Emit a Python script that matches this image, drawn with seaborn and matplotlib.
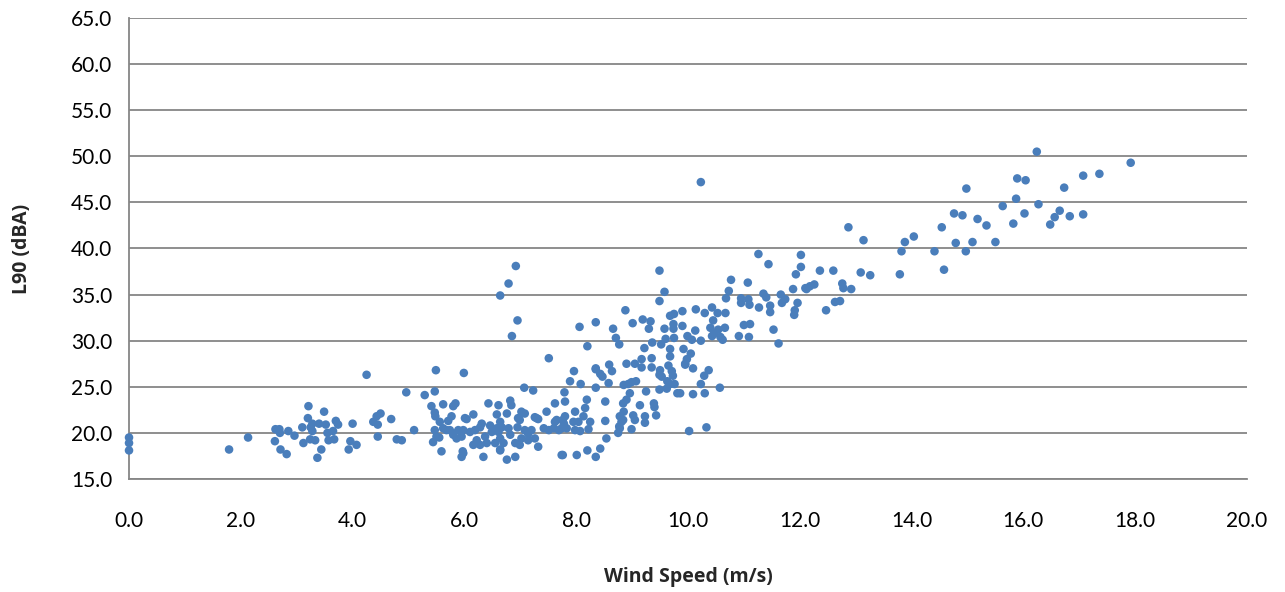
import pandas as pd
import seaborn as sns
import matplotlib.pyplot as plt
from matplotlib.ticker import FormatStrFormatter

# Wind speed (m/s) readings, grouped roughly by region of the chart
wind_low = [0.0, 0.0, 0.0, 1.79, 2.13,
            2.62, 2.69, 2.70, 2.61, 2.71, 2.82, 2.85, 2.96, 3.12, 3.10, 3.21, 3.20, 3.28, 3.25,
            3.28, 3.24, 3.33, 3.37, 3.44, 3.40, 3.49, 3.52, 3.55, 3.57, 3.65, 3.67, 3.70, 3.74,
            4.00, 3.96, 3.93, 4.07, 4.25, 4.37, 4.45, 4.43, 4.50, 4.45, 4.69, 4.79, 4.88,
            4.96, 5.10, 5.29, 5.47, 5.49, 5.99, 7.07, 7.23, 7.51]
l90_low = [19.5, 18.9, 18.1, 18.2, 19.5,
           20.4, 20.4, 20.0, 19.1, 18.2, 17.7, 20.2, 19.7, 18.9, 20.6, 22.9, 21.6, 21.0, 20.6,
           20.2, 19.3, 19.2, 17.3, 18.2, 21.0, 22.3, 20.9, 20.0, 19.2, 20.2, 19.3, 21.3, 20.9,
           21.0, 19.1, 18.2, 18.7, 26.3, 21.2, 20.9, 21.8, 22.1, 19.6, 21.5, 19.3, 19.2,
           24.4, 20.3, 24.1, 24.5, 26.8, 26.5, 24.9, 24.6, 28.1]

wind_mid_a = [5.62, 5.80, 5.41, 5.47, 5.77, 6.01, 6.16, 6.43, 6.61, 5.56, 5.71, 5.47, 5.62,
              5.68, 5.50, 5.44, 5.86, 5.95, 6.10, 6.19, 6.28, 6.31, 6.46, 6.49, 6.58, 6.37,
              6.22, 6.16, 6.28, 6.40, 6.55, 6.34, 5.98, 5.95, 5.59, 5.98, 5.80, 5.84, 5.48,
              5.89, 6.04, 5.55, 5.74, 6.64, 5.97]
l90_mid_a = [23.1, 22.9, 22.9, 22.2, 21.8, 21.6, 22.0, 23.2, 23.0, 21.2, 21.3, 20.3, 20.5,
             20.3, 19.6, 19.0, 19.4, 19.6, 20.1, 20.3, 20.6, 21.0, 20.8, 20.1, 20.5, 19.6,
             19.2, 18.7, 18.7, 18.9, 18.9, 17.4, 17.8, 17.4, 18.0, 20.3, 19.8, 23.2, 21.8,
             20.3, 21.5, 19.5, 20.3, 18.2, 18.0]

wind_mid_b = [6.82, 6.76, 7.02, 6.99, 7.29, 7.47, 7.62, 7.65, 6.64, 6.67, 6.61, 6.79, 6.82,
              6.64, 6.70, 6.95, 7.08, 7.14, 7.20, 7.02, 7.14, 7.26, 6.91, 6.99, 7.32, 7.42,
              7.51, 7.60, 7.69, 7.78, 7.74, 6.91, 6.76, 6.64, 6.58, 6.84, 7.08, 6.96, 7.26,
              7.32, 7.62]
l90_mid_b = [23.5, 22.1, 22.3, 21.4, 21.6, 22.3, 23.2, 21.4, 21.2, 20.6, 20.1, 20.5, 19.8,
             19.4, 18.9, 20.6, 20.3, 19.9, 20.3, 19.4, 19.2, 19.4, 18.9, 18.7, 18.5, 20.5,
             20.3, 20.5, 20.3, 21.0, 17.6, 17.4, 17.1, 18.1, 22.0, 23.0, 22.1, 21.6, 21.7,
             21.5, 21.2]

wind_mid_c = [7.80, 8.19, 8.52, 8.84, 7.98, 8.16, 7.80, 7.76, 7.95, 8.04, 8.13, 8.25, 8.78,
              8.84, 8.52, 7.83, 7.98, 8.07, 8.22, 7.74, 8.78, 8.75, 8.54, 8.43, 8.20, 8.35,
              8.01, 7.76,
              7.96, 7.89, 8.08, 8.35, 8.43, 8.47, 8.59, 8.64, 8.58, 8.35, 7.79, 8.90, 8.85,
              8.81, 8.77, 8.99, 9.05, 9.02, 9.14, 9.23, 9.23, 9.39, 9.43, 8.90, 9.05, 9.17,
              9.35, 9.50, 9.49, 9.53, 9.65, 9.71, 9.73, 9.63, 9.68, 9.76, 9.62, 9.81, 8.85,
              8.93, 8.99, 9.07, 8.96, 9.25, 9.49, 9.95, 10.02, 9.40]
l90_mid_c = [23.4, 23.6, 23.4, 23.2, 22.3, 22.7, 21.8, 21.4, 21.2, 21.2, 21.8, 21.2, 21.8,
             21.4, 21.3, 20.5, 20.3, 20.2, 20.4, 20.5, 20.5, 20.0, 19.4, 18.3, 18.1, 17.4,
             17.6, 17.6,
             26.7, 25.6, 25.3, 26.9, 26.4, 26.1, 27.4, 26.7, 25.4, 24.9, 24.4, 23.6, 22.3,
             21.2, 20.7, 20.4, 21.4, 21.9, 23.0, 21.8, 21.1, 23.2, 21.9, 27.5, 27.5, 27.1,
             27.1, 26.8, 26.3, 26.1, 27.3, 26.7, 26.2, 25.6, 25.3, 25.3, 24.8, 24.3, 25.2,
             25.3, 25.5, 25.6, 24.3, 24.5, 24.7, 27.5, 20.2, 22.8]

wind_rise = [6.92, 6.79, 6.64, 6.95, 6.85, 8.06, 8.35, 8.20, 8.66, 8.71, 8.77, 8.88, 9.01,
             9.19, 9.33, 9.30, 9.49, 9.58, 9.49, 9.68, 9.75, 9.74, 9.74, 9.58, 9.75, 9.60,
             9.52, 9.36, 9.22, 9.68, 9.68, 9.17, 9.35, 8.35,
             11.26, 11.44, 12.02, 12.02, 11.93, 10.77, 11.07, 10.73, 10.68, 10.95, 10.95,
             11.08, 11.10, 11.27, 11.35, 11.40, 11.47, 11.47, 11.53, 11.62, 11.66, 11.74,
             11.68, 11.88, 11.96, 11.91, 11.90, 12.10, 9.90, 10.14, 10.30, 10.43, 10.53,
             10.67, 10.45, 9.90, 10.13, 9.99, 10.07, 10.23, 10.40, 10.43, 10.54, 10.58,
             10.62, 10.66, 10.91, 11.00, 11.11, 11.09, 9.92, 10.05, 9.98, 9.95, 10.09,
             10.37, 10.29, 10.23, 10.30, 10.09, 10.57, 10.33, 9.86, 10.47]
l90_rise = [38.1, 36.2, 34.9, 32.2, 30.5, 31.5, 32.0, 29.4, 31.3, 30.3, 29.6, 33.3, 31.9,
            32.3, 32.1, 31.3, 37.6, 35.3, 34.3, 32.7, 32.9, 31.8, 31.3, 31.3, 30.3, 30.2,
            29.6, 29.8, 29.2, 29.1, 28.3, 28.0, 28.1, 27.0,
            39.4, 38.3, 39.3, 38.0, 37.2, 36.6, 36.3, 35.4, 34.6, 34.6, 34.1,
            34.5, 33.9, 33.6, 35.1, 34.7, 33.8, 33.1, 31.2, 29.7, 35.0, 34.5,
            34.1, 35.6, 34.1, 33.3, 32.8, 35.7, 33.2, 33.4, 33.0, 33.6, 33.0,
            33.0, 32.2, 31.6, 31.1, 30.5, 30.1, 30.0, 31.4, 30.5, 31.2, 30.4,
            30.1, 31.4, 30.5, 31.7, 31.8, 30.4, 29.1, 28.6, 28.0, 27.4, 27.0,
            26.8, 26.2, 25.3, 24.3, 24.2, 24.9, 20.6, 24.3, 30.8]

wind_high = [12.87, 13.14, 12.36, 12.60, 13.09, 13.26, 12.12, 12.18, 12.26, 12.76, 12.78,
             12.92, 12.63, 12.72, 12.47,
             16.24, 14.98, 15.89, 16.04, 17.07, 17.36, 16.73, 15.87, 15.63, 16.27, 14.76,
             14.91, 15.18, 15.34, 15.82, 16.02, 16.65, 16.56, 16.48, 16.83, 17.07, 14.54,
             14.04, 13.88, 13.82, 14.41, 14.79, 15.09, 14.97, 15.50, 14.58, 13.79,
             17.92, 10.23]
l90_high = [42.3, 40.9, 37.6, 37.6, 37.4, 37.1, 35.6, 35.9, 36.1, 36.2, 35.7,
            35.6, 34.2, 34.3, 33.3,
            50.5, 46.5, 47.6, 47.4, 47.9, 48.1, 46.6, 45.4, 44.6, 44.8, 43.8,
            43.6, 43.2, 42.5, 42.7, 43.8, 44.1, 43.4, 42.6, 43.5, 43.7, 42.3,
            41.3, 40.7, 39.7, 39.7, 40.6, 40.7, 39.7, 40.7, 37.7, 37.2,
            49.3, 47.2]

x_ticks = [0, 2, 4, 6, 8, 10, 12, 14, 16, 18, 20]
y_ticks = [15, 20, 25, 30, 35, 40, 45, 50, 55, 60, 65]


def build_frame():
    wind = wind_low + wind_mid_a + wind_mid_b + wind_mid_c + wind_rise + wind_high
    l90 = l90_low + l90_mid_a + l90_mid_b + l90_mid_c + l90_rise + l90_high
    return pd.DataFrame({'wind': wind, 'l90': l90})


def main():
    data = build_frame()

    sns.set_style("white")
    plt.rcParams['font.family'] = ['Lato', 'DejaVu Sans']

    fig = plt.figure(figsize=(12.85, 5.92), dpi=100)
    ax = fig.add_axes([0.1004, 0.1909, 0.8700, 0.7787])

    sns.scatterplot(x='wind', y='l90', data=data, ax=ax, color='#4a7ebb',
                    s=38, edgecolor='none', zorder=3, clip_on=False)

    ax.set_xlim(0, 20)
    ax.set_ylim(15, 65)
    ax.set_xticks(x_ticks)
    ax.set_yticks(y_ticks)
    ax.xaxis.set_major_formatter(FormatStrFormatter('%.1f'))
    ax.yaxis.set_major_formatter(FormatStrFormatter('%.1f'))

    # horizontal gridlines only, Excel-like grey
    ax.grid(axis='y', color='#868686', linewidth=1.3)
    ax.grid(axis='x', visible=False)
    for side in ['top', 'right']:
        ax.spines[side].set_visible(False)
    for side in ['left', 'bottom']:
        ax.spines[side].set_color('#868686')
        ax.spines[side].set_linewidth(1.3)

    ax.tick_params(axis='both', direction='out', length=6, width=1.3,
                   color='#868686', labelsize=15, labelcolor='black', pad=6)
    ax.tick_params(axis='x', pad=17)

    label_font = {'family': ['Open Sans', 'DejaVu Sans'], 'size': 14, 'weight': 'bold'}
    ax.set_xlabel('Wind Speed (m/s)', fontdict=label_font, labelpad=26)
    ax.set_ylabel('L90 (dBA)', fontdict=label_font, labelpad=28)

    fig.savefig('out.png', dpi=100)
    plt.close(fig)


if __name__ == "__main__":
    main()
